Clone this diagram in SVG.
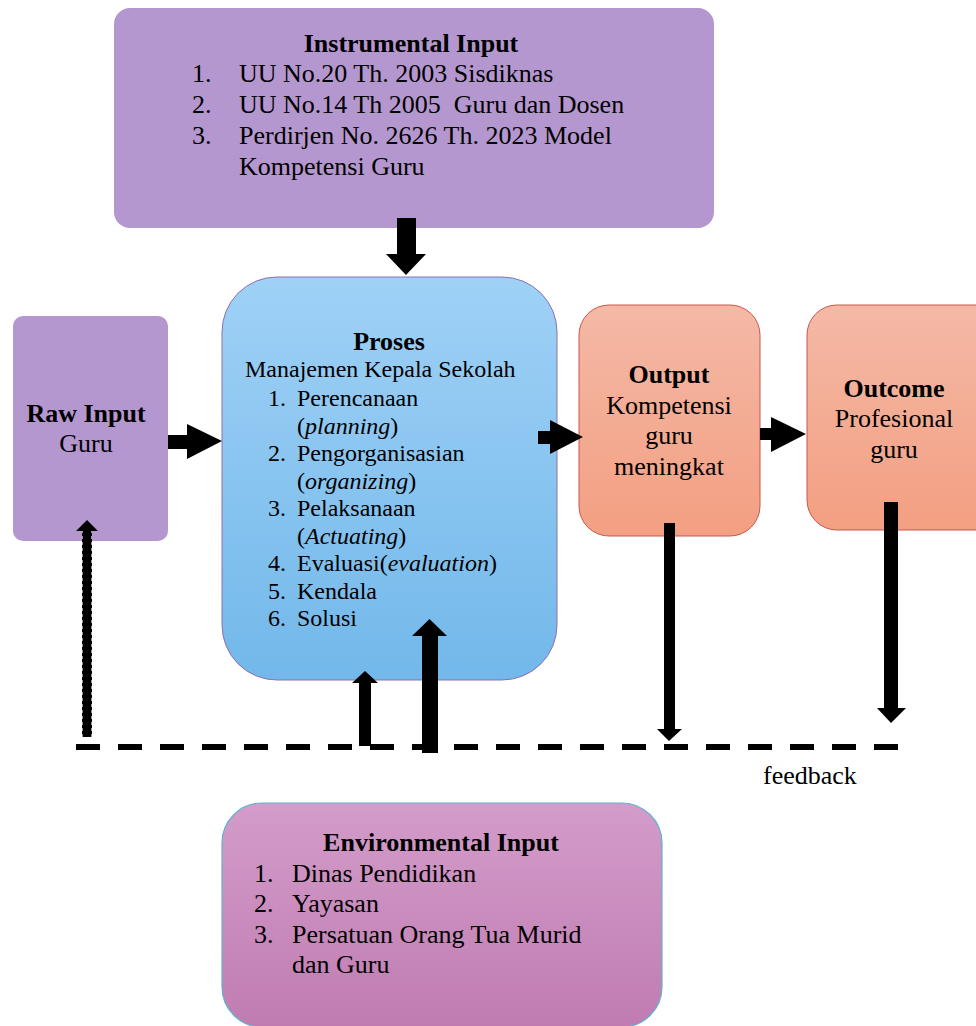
<svg xmlns="http://www.w3.org/2000/svg" width="976" height="1026" viewBox="0 0 976 1026">
<defs>
<linearGradient id="gBlue" x1="0" y1="0" x2="0" y2="1"><stop offset="0" stop-color="#9fd1f6"/><stop offset="1" stop-color="#72b8ea"/></linearGradient>
<linearGradient id="gOrange" x1="0" y1="0" x2="0" y2="1"><stop offset="0" stop-color="#f4b9a6"/><stop offset="1" stop-color="#f39f82"/></linearGradient>
<linearGradient id="gPink" x1="0" y1="0" x2="0" y2="1"><stop offset="0" stop-color="#d39cca"/><stop offset="1" stop-color="#c07cb1"/></linearGradient>
<style>
text{font-family:"Liberation Serif","Times New Roman",serif;fill:#000;}
.t{font-size:26px;}
.p{font-size:24px;}
.b{font-weight:bold;}
.m{text-anchor:middle;}
.arr{fill:#000;}
</style>
</defs>
<rect width="976" height="1026" fill="#fff"/>

<g id="instrumental-input">
<rect x="114" y="8" width="600" height="220" rx="16" fill="#b597cf"/>
<text class="t b m" x="411" y="52">Instrumental Input</text>
<text class="t" x="192" y="82">1.</text><text class="t" x="239" y="82">UU No.20 Th. 2003 Sisdiknas</text>
<text class="t" x="192" y="113">2.</text><text class="t" x="239" y="113" xml:space="preserve">UU No.14 Th 2005  Guru dan Dosen</text>
<text class="t" x="192" y="144">3.</text><text class="t" x="239" y="144">Perdirjen No. 2626 Th. 2023 Model</text>
<text class="t" x="239" y="175">Kompetensi Guru</text>
</g>

<g id="raw-input">
<rect x="13" y="316" width="155" height="225" rx="10" fill="#b597cf"/>
<text class="t b m" x="86" y="422">Raw Input</text>
<text class="t m" x="86" y="452">Guru</text>
</g>

<g id="proses">
<rect x="222" y="277" width="335" height="403" rx="55" fill="url(#gBlue)" stroke="#8e6fb0" stroke-width="1"/>
<text class="t b m" x="389" y="350">Proses</text>
<text class="p" x="245" y="377">Manajemen Kepala Sekolah</text>
<text class="p" x="268" y="406">1.</text><text class="p" x="297" y="406">Perencanaan</text>
<text class="p" x="297" y="433.5">(<tspan font-style="italic">planning</tspan>)</text>
<text class="p" x="268" y="461">2.</text><text class="p" x="297" y="461">Pengorganisasian</text>
<text class="p" x="297" y="488.5">(<tspan font-style="italic">organizing</tspan>)</text>
<text class="p" x="268" y="516">3.</text><text class="p" x="297" y="516">Pelaksanaan</text>
<text class="p" x="297" y="543.5">(<tspan font-style="italic">Actuating</tspan>)</text>
<text class="p" x="268" y="571">4.</text><text class="p" x="297" y="571">Evaluasi(<tspan font-style="italic">evaluation</tspan>)</text>
<text class="p" x="268" y="598.5">5.</text><text class="p" x="297" y="598.5">Kendala</text>
<text class="p" x="268" y="626">6.</text><text class="p" x="297" y="626">Solusi</text>
</g>

<g id="output">
<rect x="579" y="305" width="181" height="231" rx="30" fill="url(#gOrange)" stroke="#c9564e" stroke-width="1"/>
<text class="t b m" x="669" y="383">Output</text>
<text class="t m" x="669" y="414">Kompetensi</text>
<text class="t m" x="669" y="444">guru</text>
<text class="t m" x="669" y="475">meningkat</text>
</g>

<g id="outcome">
<rect x="807" y="305" width="200" height="225" rx="30" fill="url(#gOrange)" stroke="#c9564e" stroke-width="1"/>
<text class="t b m" x="894" y="397">Outcome</text>
<text class="t m" x="894" y="427">Profesional</text>
<text class="t m" x="894" y="458">guru</text>
</g>

<g id="environmental-input">
<rect x="222" y="803" width="440" height="224" rx="40" fill="url(#gPink)" stroke="#5fb3d0" stroke-width="1.2"/>
<text class="t b m" x="441" y="851">Environmental Input</text>
<text class="t" x="254" y="882">1.</text><text class="t" x="292" y="882">Dinas Pendidikan</text>
<text class="t" x="254" y="912">2.</text><text class="t" x="292" y="912">Yayasan</text>
<text class="t" x="254" y="943">3.</text><text class="t" x="292" y="943">Persatuan Orang Tua Murid</text>
<text class="t" x="292" y="973">dan Guru</text>
</g>

<g id="connectors">
<polygon class="arr" points="397,218 416,218 416,254 426,254 406,275 386,254 397,254"/>
<polygon class="arr" points="168,435 187,435 187,424 222,441 187,459 187,449 168,449"/>
<polygon class="arr" points="538,431 550,431 550,420 583,437 550,454 550,444 538,444"/>
<polygon class="arr" points="760,428 771,428 771,417 806,434 771,452 771,440 760,440"/>
<polygon class="arr" points="664,523 675,523 675,729 682,729 669,741 657,729 664,729"/>
<polygon class="arr" points="884,502 898,502 898,708 906,708 891,723 877,708 884,708"/>
<polygon class="arr" points="82,737 92,737 92,531 98,531 87,520 76,531 82,531"/>
<line x1="82.5" y1="737" x2="82.5" y2="531" stroke="#fff" stroke-width="1" stroke-dasharray="3 3" opacity="0.6"/>
<line x1="91.5" y1="737" x2="91.5" y2="531" stroke="#fff" stroke-width="1" stroke-dasharray="3 3" opacity="0.6"/>
<polygon class="arr" points="359,746 371,746 371,683 378,683 365,671 352,683 359,683"/>
<polygon class="arr" points="422,753 438,753 438,636 447,636 429.5,619 412,636 422,636"/>
<line x1="76" y1="747" x2="898" y2="747" stroke="#000" stroke-width="6" stroke-dasharray="24 18"/>
<text class="t" x="763" y="784">feedback</text>
</g>
</svg>
